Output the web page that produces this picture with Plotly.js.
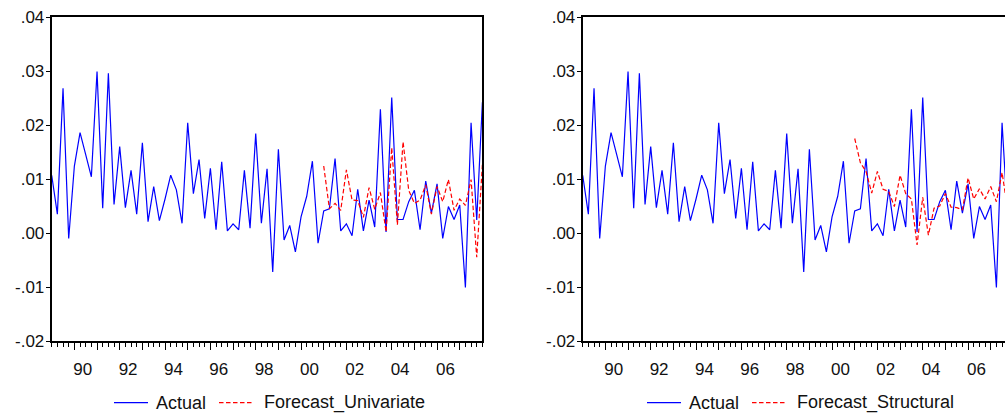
<!DOCTYPE html>
<html>
<head>
<meta charset="utf-8">
<script src="https://cdn.plot.ly/plotly-3.0.1.min.js"></script>
<style>
html, body { margin: 0; padding: 0; overflow: hidden; background: #fff; }
#chart { width: 1020px; height: 414px; }
</style>
</head>
<body>
<div id="chart"></div>
<script>
// Quarterly series, 1989Q1 .. 2008Q1
const startYear = 1989;
const actual = [
  0.0107, 0.0035, 0.0268, -0.0010, 0.0124, 0.0186, 0.0145, 0.0104,
  0.0299, 0.0046, 0.0296, 0.0053, 0.0160, 0.0047, 0.0116, 0.0035,
  0.0167, 0.0021, 0.0086, 0.0023, 0.0063, 0.0107, 0.0080, 0.0018,
  0.0204, 0.0073, 0.0136, 0.0027, 0.0120, 0.0006, 0.0132, 0.0004,
  0.0017, 0.0006, 0.0116, 0.0009, 0.0184, 0.0018, 0.0119, -0.0072,
  0.0155, -0.0013, 0.0014, -0.0035, 0.0030, 0.0068, 0.0133, -0.0019,
  0.0041, 0.0045, 0.0138, 0.0004, 0.0017, -0.0005, 0.0081, 0.0004,
  0.0061, 0.0011, 0.0229, 0.0002, 0.0251, 0.0025, 0.0025, 0.0058,
  0.0079, 0.0006, 0.0096, 0.0037, 0.0091, -0.0010, 0.0049, 0.0025,
  0.0052, -0.0101, 0.0204, 0.0024, 0.0242
];
// Forecasts start at 2001Q1 (observation index 48)
const forecastStart = 48;
const forecastUnivariate = [
  0.0124, 0.0045, 0.0055, 0.0042, 0.0117, 0.0061, 0.0060, 0.0029,
  0.0084, 0.0044, 0.0075, 0.0002, 0.0158, 0.0015, 0.0169, 0.0079,
  0.0055, 0.0061, 0.0089, 0.0035, 0.0086, 0.0058, 0.0099, 0.0042,
  0.0063, 0.0051, 0.0099, -0.0045, 0.0127
];
const forecastStructural = [
  0.0175, 0.0130, 0.0114, 0.0074, 0.0114, 0.0081, 0.0077, 0.0049,
  0.0107, 0.0073, 0.0063, -0.0022, 0.0066, -0.0004, 0.0046, 0.0050,
  0.0073, 0.0048, 0.0047, 0.0043, 0.0102, 0.0063, 0.0082, 0.0063,
  0.0086, 0.0058, 0.0112, 0.0043, 0.0070
];
const yTickVals = [-0.02, -0.01, 0.00, 0.01, 0.02, 0.03, 0.04];
const yTickText = ['-.02', '-.01', '.00', '.01', '.02', '.03', '.04'];
const yearTicks = [1990,1991,1992,1993,1994,1995,1996,1997,1998,1999,2000,2001,2002,2003,2004,2005,2006,2007];
const labelYears = [1990, 1992, 1994, 1996, 1998, 2000, 2002, 2004, 2006];
const labelText = ['90', '92', '94', '96', '98', '00', '02', '04', '06'];
const legendLeft = ['Actual', 'Forecast_Univariate'];
const legendRight = ['Actual', 'Forecast_Structural'];

const qx = i => startYear + i / 4;
const xActual = actual.map((v, i) => qx(i));
const xFc = forecastUnivariate.map((v, i) => qx(forecastStart + i));
const xFs = forecastStructural.map((v, i) => qx(forecastStart + i));

const W = 1020, H = 414, T = 17, B = 73;
const PH = H - T - B;
const blue = '#0000ff', red = '#ff0000';
const dash = '4.5px,2.5px';
const labelOffset = 0.37; // EViews puts the year label inside the year span

const traces = [
  {x: xActual, y: actual, type: 'scatter', mode: 'lines', name: 'Actual',
   line: {color: blue, width: 1.2}, xaxis: 'x', yaxis: 'y'},
  {x: xFc, y: forecastUnivariate, type: 'scatter', mode: 'lines', name: 'Forecast_Univariate',
   line: {color: red, width: 1.2, dash: dash}, xaxis: 'x', yaxis: 'y'},
  {x: xActual, y: actual, type: 'scatter', mode: 'lines', name: 'Actual',
   line: {color: blue, width: 1.2}, xaxis: 'x2', yaxis: 'y2'},
  {x: xFs, y: forecastStructural, type: 'scatter', mode: 'lines', name: 'Forecast_Structural',
   line: {color: red, width: 1.2, dash: dash}, xaxis: 'x2', yaxis: 'y2'},
  {x: [], y: [], type: 'scatter', mode: 'lines', xaxis: 'x3', yaxis: 'y', hoverinfo: 'skip'},
  {x: [], y: [], type: 'scatter', mode: 'lines', xaxis: 'x4', yaxis: 'y2', hoverinfo: 'skip'}
];

const font = {family: '"Liberation Sans", Arial, sans-serif', color: '#111'};

function xAxis(domain, anchor) {
  return {
    domain: domain, anchor: anchor, range: [1989, 2008],
    showgrid: false, zeroline: false, showline: true, linewidth: 2, linecolor: '#000', mirror: true,
    tickmode: 'array', tickvals: yearTicks, ticktext: yearTicks.map(() => ''),
    ticks: 'outside', ticklen: 7, tickwidth: 1, tickcolor: '#000',
    minor: {dtick: 0.25, tick0: 1989, ticks: 'outside', ticklen: 4, tickwidth: 1, tickcolor: '#000'},
    fixedrange: true
  };
}
function labelAxis(domain, anchor, over) {
  return {
    domain: domain, anchor: anchor, overlaying: over, side: 'bottom', range: [1989, 2008],
    showgrid: false, zeroline: false, showline: false,
    tickmode: 'array', tickvals: labelYears.map(y => y + labelOffset), ticktext: labelText,
    ticks: 'outside', ticklen: 7, tickcolor: 'rgba(0,0,0,0)', ticklabelstandoff: 6,
    tickfont: Object.assign({size: 17}, font),
    fixedrange: true
  };
}
function yAxis(anchor) {
  return {
    domain: [0, 1], anchor: anchor, range: [-0.02, 0.04],
    showgrid: false, zeroline: false, showline: true, linewidth: 2, linecolor: '#000', mirror: true,
    tickmode: 'array', tickvals: yTickVals, ticktext: yTickText,
    ticks: 'outside', ticklen: 4, tickwidth: 1, tickcolor: '#000',
    ticklabelstandoff: -2,
    tickfont: Object.assign({size: 17}, font),
    fixedrange: true
  };
}

const d1 = [51.7 / W, 482.4 / W];
const d2 = [582.7 / W, 1013.4 / W];

// manual legends below each panel (pixel layout converted to paper coords)
const px = v => v / W;
const py = v => (H - B - v) / PH;
const legRowY = 402.7;
const shapes = [], annotations = [];
function addLegend(x0, names) {
  const items = [
    {color: blue, dash: 'solid', lx: x0, tx: x0 + 40, text: names[0]},
    {color: red, dash: dash, lx: x0 + 105, tx: x0 + 148, text: names[1]}
  ];
  items.forEach(it => {
    shapes.push({type: 'line', xref: 'paper', yref: 'paper',
      x0: px(it.lx), x1: px(it.lx + 34), y0: py(legRowY), y1: py(legRowY),
      line: {color: it.color, width: 1.2, dash: it.dash}});
    annotations.push({xref: 'paper', yref: 'paper', x: px(it.tx), y: py(legRowY),
      xanchor: 'left', yanchor: 'middle', showarrow: false, text: it.text,
      font: Object.assign({size: 18}, font)});
  });
}
addLegend(114, legendLeft);
addLegend(647, legendRight);

const layout = {
  width: W, height: H,
  margin: {l: 0, r: 0, t: T, b: B},
  paper_bgcolor: '#fff', plot_bgcolor: '#fff',
  font: font,
  showlegend: false,
  xaxis: xAxis(d1, 'y'),
  yaxis: yAxis('x'),
  xaxis2: xAxis(d2, 'y2'),
  yaxis2: yAxis('x2'),
  xaxis3: labelAxis(d1, 'y', 'x'),
  xaxis4: labelAxis(d2, 'y2', 'x2'),
  shapes: shapes,
  annotations: annotations
};

Plotly.newPlot('chart', traces, layout, {staticPlot: true, displayModeBar: false});
</script>
</body>
</html>
